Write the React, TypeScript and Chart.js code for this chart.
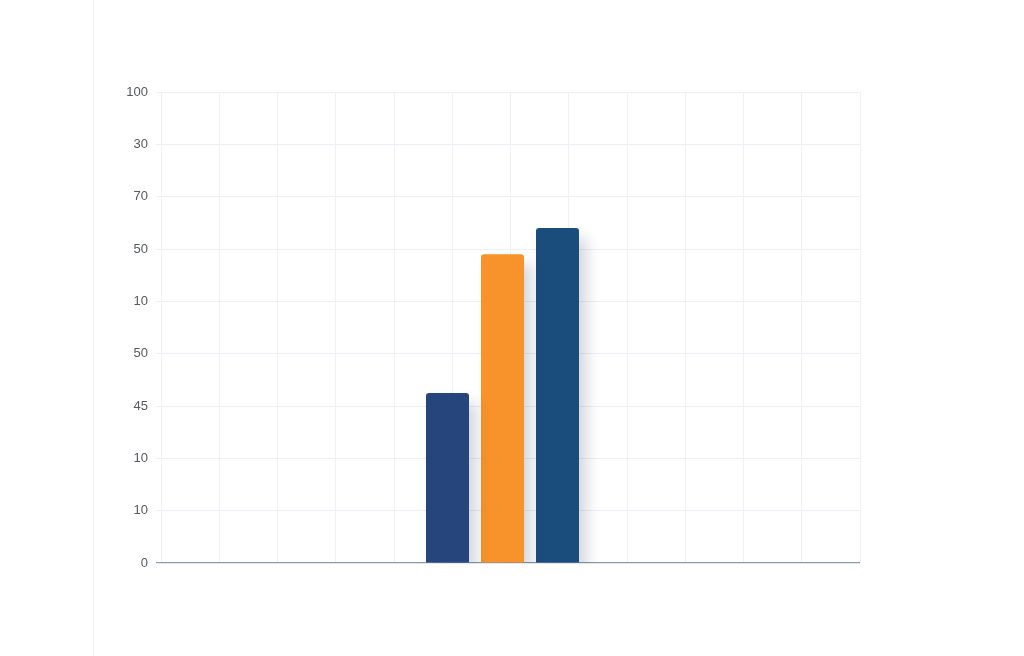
import { useEffect, useRef } from 'react';
import Chart from 'chart.js/auto';

// values (axis runs 0..90 in steps of 10, labels as printed)
const Y_TICK_LABELS = ['0', '10', '10', '45', '50', '10', '50', '70', '30', '100'];
const SERIES_NAMES = ['Series A', 'Series B', 'Series C'];
const SERIES_VALUES = [32.5, 59, 64];
const SERIES_COLORS = ['#26457d', '#f8932b', '#1b4d7c'];
const GRID_COLUMNS = 11;

const shadowPlugin = {
  id: 'barShadow',
  beforeDatasetsDraw(chart: Chart) {
    const ctx = chart.ctx;
    ctx.save();
    ctx.shadowColor = 'rgba(20, 40, 80, 0.18)';
    ctx.shadowBlur = 14;
    ctx.shadowOffsetX = 8;
    ctx.shadowOffsetY = 10;
  },
  afterDatasetsDraw(chart: Chart) {
    chart.ctx.restore();
  }
};

// the bar group sits a little left of the plot centre in the picture
const groupShift = {
  id: 'groupShift',
  afterLayout(chart: Chart) {
    const s = chart.scales.x;
    s.left -= 8;
    s.right -= 8;
    s.configure();
  }
};

export default function App() {
  const canvasRef = useRef<HTMLCanvasElement | null>(null);

  useEffect(() => {
    document.body.style.margin = '0';
    let chart: Chart | null = null;
    if (canvasRef.current) {
      chart = new Chart(canvasRef.current, {
        type: 'bar',
        data: {
          labels: [''],
          datasets: SERIES_NAMES.map((name, i) => ({
            label: name,
            data: [SERIES_VALUES[i]],
            backgroundColor: SERIES_COLORS[i],
            borderRadius: { topLeft: 3, topRight: 3, bottomLeft: 0, bottomRight: 0 },
            borderSkipped: false,
            xAxisID: 'x'
          }))
        },
        options: {
          animation: false,
          responsive: true,
          maintainAspectRatio: false,
          categoryPercentage: 165 / 699,
          barPercentage: 43 / 55,
          layout: {
            padding: { left: 0, top: 92, right: 164, bottom: 93 }
          },
          plugins: {
            legend: { display: false },
            tooltip: { enabled: false }
          },
          scales: {
            x: {
              display: false
            },
            xg: {
              type: 'linear',
              position: 'bottom',
              min: 0,
              max: GRID_COLUMNS,
              afterBuildTicks: (scale) => {
                scale.ticks = Array.from({ length: GRID_COLUMNS + 1 }, (_, i) => ({ value: i }));
              },
              ticks: { display: false },
              grid: { color: '#eef0f3', drawTicks: false },
              border: { display: false }
            },
            y: {
              min: 0,
              max: 90,
              afterFit: (scale) => {
                scale.width = 161;
              },
              ticks: {
                stepSize: 10,
                padding: 8,
                color: '#555a60',
                font: { family: 'Liberation Sans', size: 13 },
                callback: (_v, i) => Y_TICK_LABELS[i]
              },
              grid: {
                tickLength: 5,
                color: (ctx) => (ctx.tick && ctx.tick.value === 0 ? '#8a99ab' : '#eceff3'),
                lineWidth: (ctx) => (ctx.tick && ctx.tick.value === 0 ? 1.2 : 1)
              },
              border: { display: false }
            }
          }
        },
        plugins: [shadowPlugin, groupShift]
      });
    }
    return () => {
      if (chart) chart.destroy();
    };
  }, []);

  return (
    <div style={{ position: 'relative', width: 1024, height: 656, background: '#fff' }}>
      <div style={{ position: 'absolute', left: 93, top: 0, width: 1, height: 656, background: '#f0f0f0' }} />
      <div style={{ position: 'absolute', left: 0, top: 0, width: 1024, height: 656 }}>
        <canvas ref={canvasRef}></canvas>
      </div>
    </div>
  );
}
